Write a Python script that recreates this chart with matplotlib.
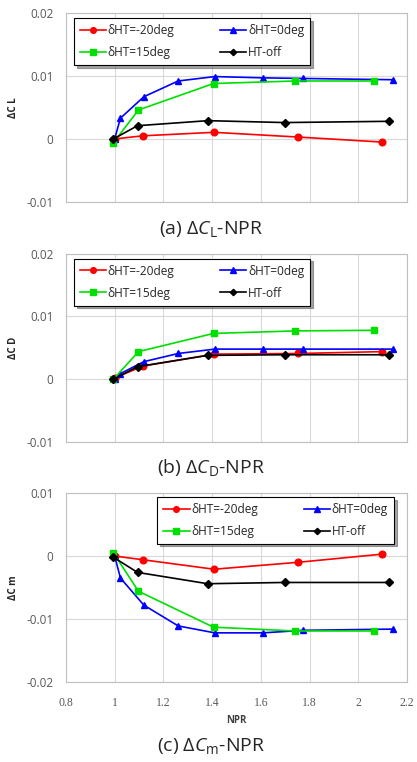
import matplotlib
matplotlib.use("Agg")
import matplotlib.pyplot as plt

plt.rcParams['font.family'] = ['Open Sans', 'DejaVu Sans']
plt.rcParams['mathtext.fontset'] = 'custom'
plt.rcParams['mathtext.rm'] = 'Open Sans'
plt.rcParams['mathtext.it'] = 'Open Sans:italic'

series_names = ["δHT=-20deg", "δHT=0deg", "δHT=15deg", "HT-off"]
series_colors = ["#ff0000", "#0000ff", "#00e000", "#000000"]
series_markers = ["o", "^", "s", "D"]

# NPR values for each configuration
npr_m20 = [1.0, 1.117, 1.408, 1.753, 2.099]
npr_0 = [1.0, 1.024, 1.12, 1.261, 1.411, 1.609, 1.774, 2.144]
npr_15 = [0.995, 1.098, 1.406, 1.742, 2.066]
npr_off = [0.995, 1.094, 1.382, 1.698, 2.127]

# Lift increment
dCL_m20 = [0.0, 0.0005, 0.00105, 0.0003, -0.0005]
dCL_0 = [0.0, 0.0033, 0.0067, 0.0092, 0.0099, 0.0097, 0.0096, 0.0094]
dCL_15 = [-0.0006, 0.0046, 0.0088, 0.0092, 0.0092]
dCL_off = [0.0, 0.0021, 0.0029, 0.0026, 0.0028]

# Drag increment
dCD_m20 = [0.0002, 0.0021, 0.0040, 0.0041, 0.0044]
dCD_0 = [0.0, 0.0009, 0.0028, 0.0041, 0.0048, 0.0048, 0.0048, 0.0048]
dCD_15 = [0.0, 0.0044, 0.0073, 0.0077, 0.0078]
dCD_off = [0.0, 0.0020, 0.0038, 0.0039, 0.0039]

# Pitching moment increment
dCm_m20 = [0.0, -0.0006, -0.0021, -0.0010, 0.0003]
dCm_0 = [0.0, -0.0035, -0.0078, -0.0111, -0.0122, -0.0122, -0.0118, -0.0116]
dCm_15 = [0.0005, -0.0056, -0.0113, -0.0119, -0.0119]
dCm_off = [-0.0002, -0.0026, -0.0044, -0.0042, -0.0042]

x_ticks = [0.8, 1.0, 1.2, 1.4, 1.6, 1.8, 2.0, 2.2]
x_tick_labels = ["0.8", "1", "1.2", "1.4", "1.6", "1.8", "2", "2.2"]

panels = [
    dict(ylabel="ΔC L", ylim=(-0.01, 0.02), yticks=[-0.01, 0, 0.01, 0.02],
         yticklabels=["-0.01", "0", "0.01", "0.02"],
         data=[dCL_m20, dCL_0, dCL_15, dCL_off],
         caption=r"(a) $\Delta C_{\mathrm{L}}$-NPR",
         rect=[0.158, 0.735, 0.818, 0.248], legend_box=(0.023, 0.974)),
    dict(ylabel="ΔC D", ylim=(-0.01, 0.02), yticks=[-0.01, 0, 0.01, 0.02],
         yticklabels=["-0.01", "0", "0.01", "0.02"],
         data=[dCD_m20, dCD_0, dCD_15, dCD_off],
         caption=r"(b) $\Delta C_{\mathrm{D}}$-NPR",
         rect=[0.158, 0.42, 0.818, 0.247], legend_box=(0.023, 0.974)),
    dict(ylabel="ΔC m", ylim=(-0.02, 0.01), yticks=[-0.02, -0.01, 0, 0.01],
         yticklabels=["-0.02", "-0.01", "0", "0.01"],
         data=[dCm_m20, dCm_0, dCm_15, dCm_off],
         caption=r"(c) $\Delta C_{\mathrm{m}}$-NPR",
         rect=[0.158, 0.105, 0.818, 0.248], legend_box=(0.268, 0.98)),
]
npr_sets = [npr_m20, npr_0, npr_15, npr_off]

fig = plt.figure(figsize=(4.17, 7.62), dpi=100)
tick_color = "#595959"
grid_color = "#d9d9d9"

for i, p in enumerate(panels):
    ax = fig.add_axes(p["rect"])
    handles = []
    for x, y, name, c, m in zip(npr_sets, p["data"], series_names,
                                series_colors, series_markers):
        ms = 4.8 if m != "D" else 3.8
        h, = ax.plot(x, y, color=c, marker=m, markersize=ms, linewidth=1.2,
                     markerfacecolor=c, markeredgecolor=c, label=name,
                     zorder=3)
        handles.append(h)
    ax.set_xlim(0.8, 2.2)
    ax.set_ylim(*p["ylim"])
    ax.set_xticks(x_ticks)
    ax.set_yticks(p["yticks"])
    ax.set_yticklabels(p["yticklabels"])
    if i == 2:
        ax.set_xticklabels(x_tick_labels, family=["Liberation Serif"],
                           fontsize=8.5)
        ax.set_xlabel("NPR", fontsize=7, fontweight="bold", color="#404040",
                      labelpad=4)
    else:
        ax.set_xticklabels([])
    ax.tick_params(axis="y", length=0, labelsize=8.5, labelcolor=tick_color,
                   pad=9)
    ax.tick_params(axis="x", length=0, labelcolor=tick_color, pad=11)
    ax.grid(True, color=grid_color, linewidth=0.8, zorder=0)
    ax.set_axisbelow(True)
    for s in ax.spines.values():
        s.set_color("#bfbfbf")
        s.set_linewidth(0.8)
    ax.set_ylabel(p["ylabel"], fontsize=7, fontweight="bold", color="#262626",
                  labelpad=5)
    # two columns, filled row by row
    order = [0, 2, 1, 3]
    leg = ax.legend([handles[k] for k in order],
                    [series_names[k] for k in order],
                    ncol=2, loc="upper left", bbox_to_anchor=p["legend_box"],
                    fontsize=8.6, frameon=True, fancybox=False, shadow=True,
                    handlelength=2.2, handletextpad=0.15, columnspacing=3.8,
                    borderpad=0.5, labelspacing=0.75, borderaxespad=0.0,
                    markerscale=0.85)
    leg.get_frame().set_edgecolor("#000000")
    leg.get_frame().set_linewidth(0.8)
    for t in leg.get_texts():
        t.set_color("#262626")
    cap_y = [229, 468, 746][i]
    fig.text(0.505, 1 - cap_y / 762, p["caption"], ha="center", va="center",
             fontsize=14, color="#262626")

fig.savefig("out.png", dpi=100)
